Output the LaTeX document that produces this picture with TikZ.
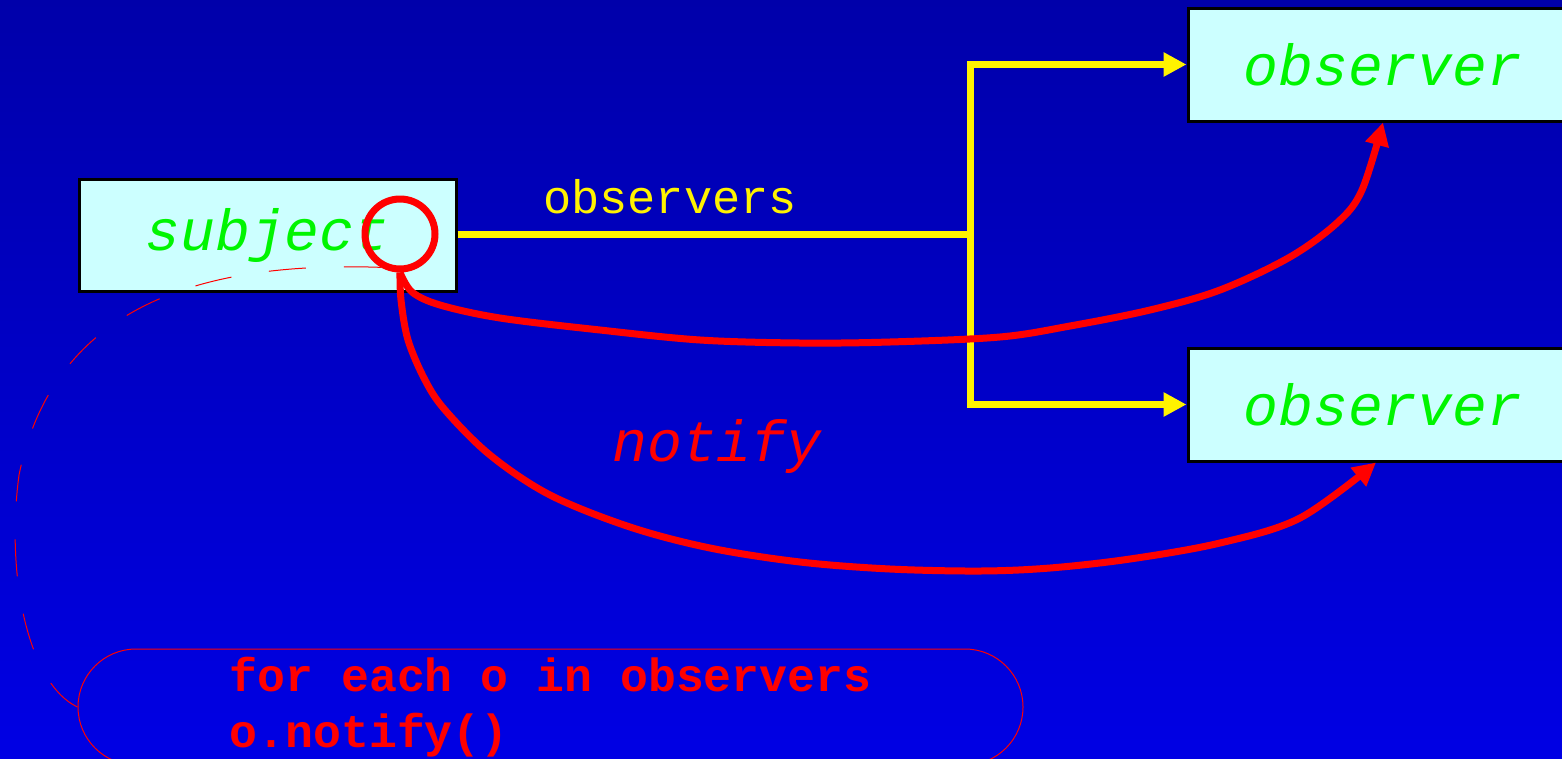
\documentclass[tikz,border=0pt]{standalone}
\usepackage{fontspec}
\setmonofont{Liberation Mono}
\usetikzlibrary{arrows.meta}

\definecolor{slidetop}{RGB}{0,0,170}
\definecolor{slidebot}{RGB}{0,0,228}
\definecolor{boxfill}{RGB}{204,255,255}
\definecolor{namegreen}{RGB}{0,245,0}

\tikzset{
	classbox/.style={draw=black, line width=3pt, fill=boxfill, text=namegreen, inner sep=0pt,
		font=\fontsize{58}{64}\selectfont\ttfamily\itshape},
	link/.style={draw=yellow, line width=7pt},
	linkto/.style={link, -{Triangle[length=23pt,width=23pt]}},
	call/.style={draw=red, line width=7pt, -{Triangle[length=23pt,width=23pt]}},
}

\begin{document}
	\begin{tikzpicture}[x=1pt,y=-1pt]
		% фон слайда
		\shade [top color=slidetop, bottom color=slidebot] ( 0, 0 ) rectangle ( 1562, 758 );
		\useasboundingbox ( 0, 0 ) rectangle ( 1562, 758 );

		% классы
		\node [classbox, minimum width=377pt, minimum height=112pt] (subject) at ( 267.5, 235 ) {subject};
		\node [classbox, minimum width=390pt, minimum height=113pt] (obsA) at ( 1383, 64.5 ) {observer};
		\node [classbox, minimum width=390pt, minimum height=113pt] (obsB) at ( 1383, 404.5 ) {observer};

		% ссылка observers
		\coordinate (fork) at ( 970, 234 );
		\draw [link] (subject.east |- fork) -- (fork);
		\draw [linkto] (fork) |- (obsA.west);
		\draw [linkto] (fork) |- (obsB.west);
		\node [text=yellow, font=\fontsize{47}{52}\selectfont\ttfamily] (obsname) at ( 670, 197 ) {observers};

		% вызовы notify
		\node [draw=red, line width=7pt, circle, minimum size=70pt, inner sep=0pt] (hook) at ( 400, 234 ) {};
		\draw [call] plot [smooth, tension=0.55] coordinates { (hook.south) ( 412, 292 ) ( 440, 305 ) ( 500, 318 ) ( 600, 330 )
			( 700, 340 ) ( 800, 343 ) ( 890, 342 ) ( 1000, 337 ) ( 1070, 326 ) ( 1150, 310 ) ( 1220, 290 ) ( 1290, 257 )
			( 1338, 222 ) ( 1362, 190 ) (obsA.south) };
		\draw [call] plot [smooth, tension=0.55] coordinates { (hook.south) ( 401, 300 ) ( 408, 340 ) ( 425, 380 ) ( 445, 410 )
			( 490, 455 ) ( 550, 495 ) ( 630, 527 ) ( 710, 548 ) ( 800, 562 ) ( 890, 569 ) ( 980, 571 ) ( 1050, 568 )
			( 1130, 559 ) ( 1220, 543 ) ( 1300, 518 ) ([xshift=-7pt]obsB.south) };
		\node [text=red, font=\fontsize{58}{64}\selectfont\ttfamily\itshape] (notify) at ( 717, 446 ) {notify};

		% реализация notify
		\node [draw=red, line width=1pt, rounded corners=58pt, minimum width=945pt, minimum height=116pt, align=left,
			text=red, font=\fontsize{46.5}{56}\selectfont\ttfamily\bfseries] (code) at ( 550.5, 707 )
			{for each o in observers\\o.notify()};
		\draw [red, line width=1pt, dash pattern=on 37pt off 38pt] (hook.240) .. controls ( 170, 260 ) and ( 50, 325 ) .. ( 19, 475 )
			.. controls ( 5, 580 ) and ( 30, 685 ) .. (code.west);
	\end{tikzpicture}
\end{document}
